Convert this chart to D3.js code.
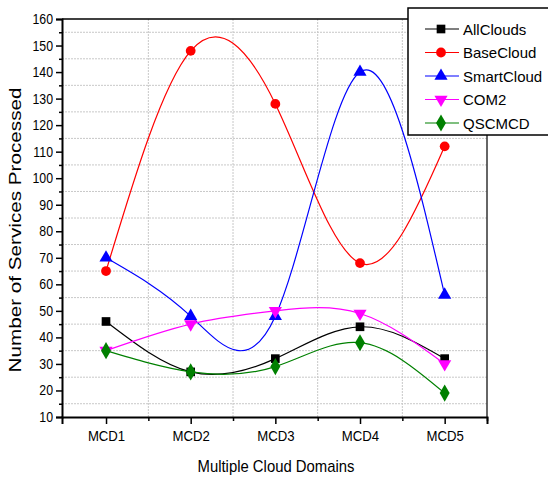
<!DOCTYPE html>
<html>
<head>
<meta charset="utf-8">
<script src="https://cdn.jsdelivr.net/npm/d3@7/dist/d3.min.js"></script>
<style>
  body { margin: 0; background: #fff; }
  text { font-family: "Liberation Sans", Arial, sans-serif; }
</style>
</head>
<body>
<div id="chart"></div>
<script>
// data
const categories = ["MCD1", "MCD2", "MCD3", "MCD4", "MCD5"]
const allClouds = [46, 27, 32, 44, 32]
const baseCloud = [65, 148, 128, 68, 112]
const smartCloud = [70, 48, 48, 140, 56]
const com2 = [35, 45, 50, 49, 30]
const qscmcd = [35, 27, 29, 38, 19]
const yTicks = d3.range(10, 161, 10)

const series = [
    {name: "AllClouds", values: allClouds, color: "#000000", symbol: d3.symbolSquare, size: 75},
    {name: "BaseCloud", values: baseCloud, color: "#ff0000", symbol: d3.symbolCircle, size: 75},
    {name: "SmartCloud", values: smartCloud, color: "#0000ff", symbol: d3.symbolTriangle, size: 75},
    {name: "COM2", values: com2, color: "#ff00ff", symbol: d3.symbolTriangle, size: 75, flip: true},
    {name: "QSCMCD", values: qscmcd, color: "#008000", symbol: d3.symbolDiamond, size: 85}
]

const W = 548, H = 478
const pLeft = 62, pRight = 487, pTop = 19, pBottom = 417

// squeeze text a bit horizontally, the original font is narrower
function condense(sel, factor){
    sel.each(function(){
        let w = this.getComputedTextLength()
        d3.select(this).attr("textLength", w * factor).attr("lengthAdjust", "spacingAndGlyphs")
    })
}

let svg = d3.select("#chart").append("svg")
    .attr("width", W)
    .attr("height", H)

// scales
let x = d3.scaleLinear().domain([0.48, 5.5]).range([pLeft, pRight])
let y = d3.scaleLinear().domain([10, 160]).range([pBottom, pTop])

// grid at minor positions
let grid = svg.append("g").attr("id", "grid")
grid.selectAll("line.h")
    .data(d3.range(15, 160, 10))
    .enter().append("line")
    .attr("x1", pLeft).attr("x2", pRight)
    .attr("y1", d => y(d)).attr("y2", d => y(d))
    .attr("stroke", "#c8c8c8").attr("stroke-dasharray", "2,1")
grid.selectAll("line.v")
    .data([1.5, 2.5, 3.5, 4.5])
    .enter().append("line")
    .attr("y1", pTop).attr("y2", pBottom)
    .attr("x1", d => x(d)).attr("x2", d => x(d))
    .attr("stroke", "#c8c8c8").attr("stroke-dasharray", "2,1")

// frame
svg.append("line").attr("x1", pLeft).attr("x2", pRight).attr("y1", pTop).attr("y2", pTop)
    .attr("stroke", "#000").attr("stroke-width", 1.5)
svg.append("line").attr("x1", pRight).attr("x2", pRight).attr("y1", pTop).attr("y2", pBottom)
    .attr("stroke", "#333").attr("stroke-width", 1.5)

// y axis
let yAxis = d3.axisLeft(y).tickValues(yTicks).tickSize(6).tickPadding(3)
let gy = svg.append("g").attr("transform", `translate(${pLeft},0)`).call(yAxis)
gy.selectAll(".tick line").attr("stroke-width", 1.5)
gy.selectAll("text").style("font-size", "14px").attr("fill", "#000").call(condense, 0.88)
gy.select(".domain").attr("stroke-width", 2)
let yMinor = d3.axisLeft(y).tickValues(d3.range(15, 160, 10)).tickSize(3).tickFormat("")
svg.append("g").attr("transform", `translate(${pLeft},0)`).call(yMinor)
    .call(g => g.select(".domain").remove())
    .selectAll(".tick line").attr("stroke-width", 1.5)

// x axis
let xAxis = d3.axisBottom(x).tickValues([1, 2, 3, 4, 5]).tickSize(7).tickPadding(7)
    .tickFormat((d, i) => categories[i])
let gx = svg.append("g").attr("transform", `translate(0,${pBottom})`).call(xAxis)
gx.selectAll(".tick line").attr("stroke-width", 1.5)
gx.selectAll("text").style("font-size", "14px").attr("fill", "#000").call(condense, 0.94)
gx.select(".domain").attr("stroke-width", 2)
let xMinor = d3.axisBottom(x).tickValues([1.5, 2.5, 3.5, 4.5, 5.5]).tickSize(4).tickFormat("")
svg.append("g").attr("transform", `translate(0,${pBottom})`).call(xMinor)
    .call(g => g.select(".domain").remove())
    .selectAll(".tick line").attr("stroke-width", 1.5)

// axis titles
svg.append("text")
    .text("Multiple Cloud Domains")
    .attr("x", 276).attr("y", 472)
    .attr("text-anchor", "middle")
    .style("font-size", "17px")
    .attr("textLength", 157).attr("lengthAdjust", "spacingAndGlyphs")
svg.append("text")
    .text("Number of Services Processed")
    .attr("transform", "translate(21, 230) rotate(-90)")
    .attr("text-anchor", "middle")
    .style("font-size", "16.5px")
    .attr("textLength", 285).attr("lengthAdjust", "spacingAndGlyphs")

// lines + markers
let line = d3.line()
    .x((d, i) => x(i + 1))
    .y(d => y(d))
    .curve(d3.curveNatural)

let plot = svg.append("g").attr("id", "plot")
series.forEach(s => {
    plot.append("path")
        .attr("d", line(s.values))
        .attr("fill", "none")
        .attr("stroke", s.color)
        .attr("stroke-width", 1.2)
})
series.forEach(s => {
    plot.selectAll(null)
        .data(s.values)
        .enter().append("path")
        .attr("d", d3.symbol().type(s.symbol).size(s.size))
        .attr("transform", (d, i) => `translate(${x(i + 1)},${y(d)})` + (s.flip ? " rotate(180)" : ""))
        .attr("fill", s.color)
})

// legend
let legend = svg.append("g").attr("id", "legend")
legend.append("rect")
    .attr("x", 408).attr("y", 8).attr("width", 150).attr("height", 127)
    .attr("fill", "#fff").attr("stroke", "#000").attr("stroke-width", 1.5)
let rows = legend.selectAll("g.row")
    .data(series)
    .enter().append("g")
    .attr("transform", (d, i) => `translate(0, ${29 + i * 23.5})`)
rows.append("line")
    .attr("x1", 425).attr("x2", 459)
    .attr("stroke", d => d.color).attr("stroke-width", 1.2)
rows.append("path")
    .attr("d", d => d3.symbol().type(d.symbol).size(d.size)())
    .attr("transform", d => "translate(441,0)" + (d.flip ? " rotate(180)" : ""))
    .attr("fill", d => d.color)
rows.append("text")
    .text(d => d.name)
    .attr("x", 463).attr("y", 5.5)
    .style("font-size", "15px")
</script>
</body>
</html>
